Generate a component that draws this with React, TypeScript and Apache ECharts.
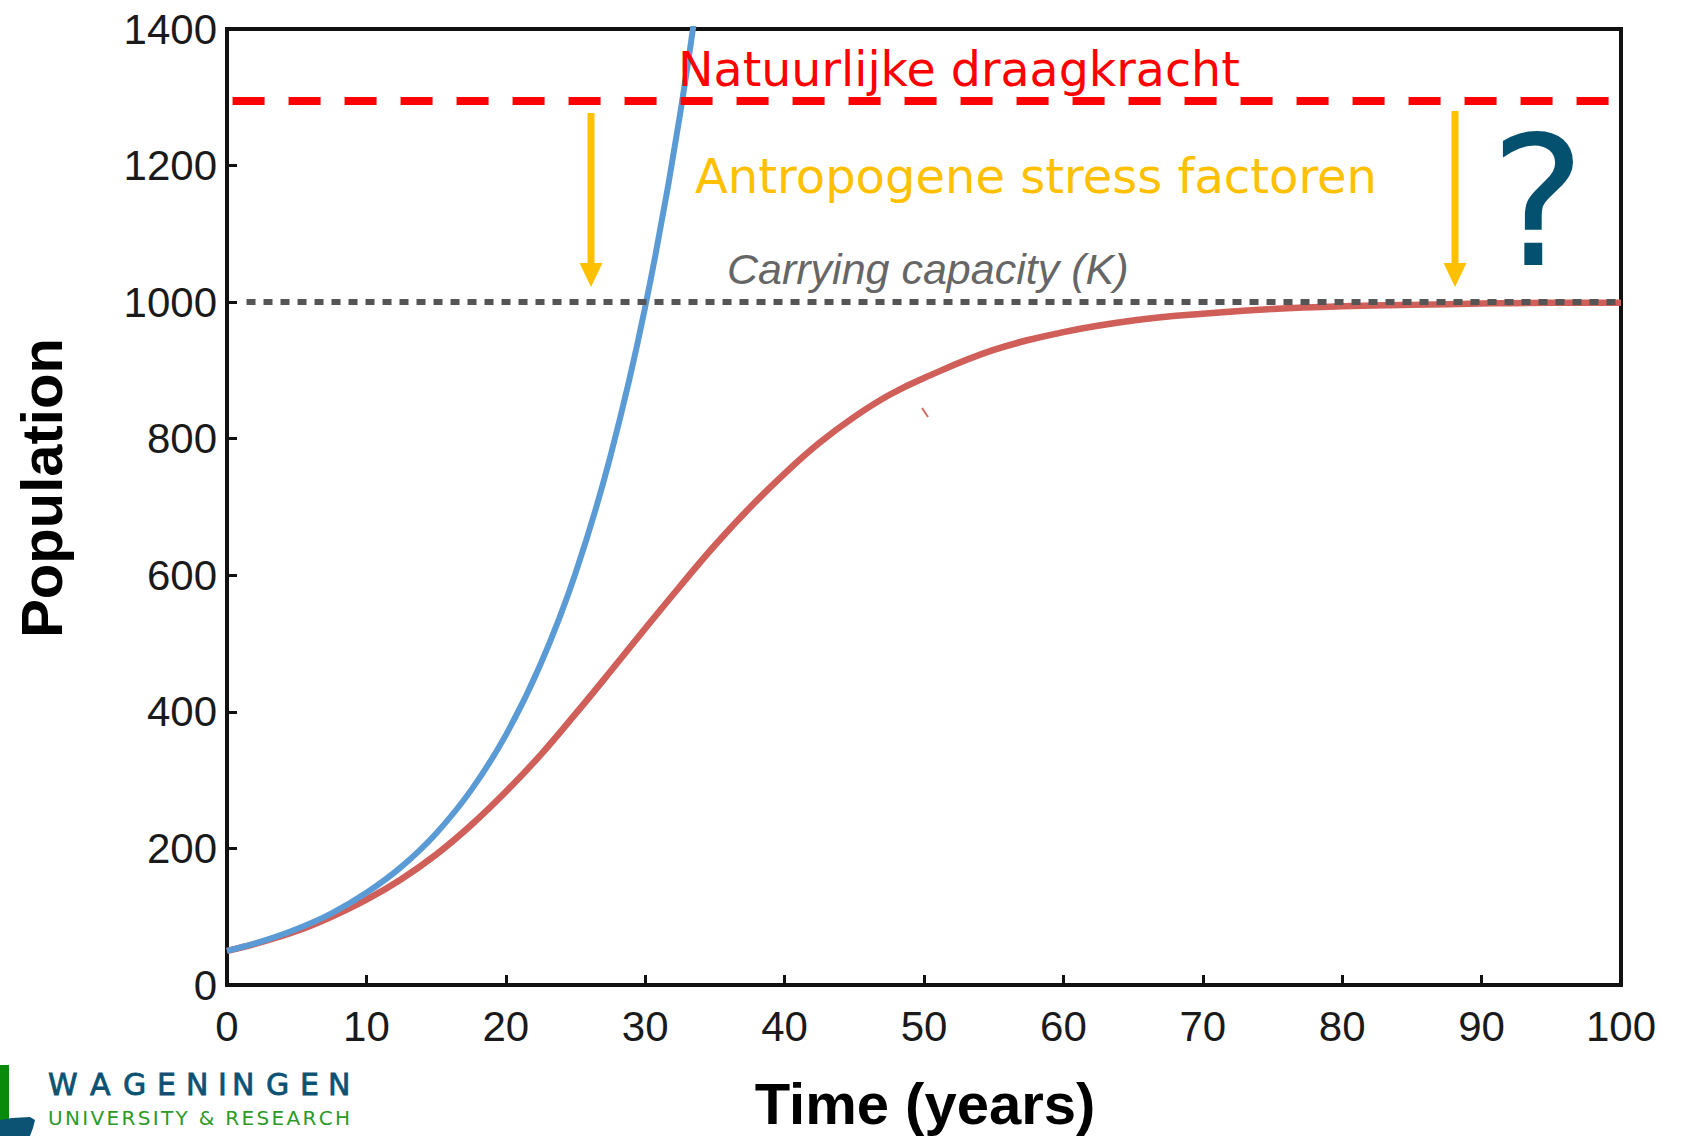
import React, { useEffect, useRef } from "react";
import * as echarts from "echarts";

// ---- data ----
const logisticYears = [0, 2.5, 5, 7.5, 10, 12.5, 15, 17.5, 20, 22.5, 25, 27.5, 30, 32.5, 35, 37.5, 40, 42.5, 45, 47.5, 50, 55, 60, 65, 70, 75, 80, 85, 90, 95, 100];
const logisticPop = [50, 63, 79, 100, 125, 155, 191, 234, 283, 337, 397, 459, 522, 584, 644, 699, 749, 794, 832, 864, 889, 930, 956, 973, 983, 990, 994, 996, 998, 999, 999];
const expYears = [0, 2.5, 5, 7.5, 10, 12.5, 15, 17.5, 20, 22.5, 25, 27.5, 30, 32.5, 35];
const expPop = [50, 64, 82, 105, 135, 173, 222, 285, 366, 470, 603, 774, 993, 1275, 1636];
const carryingCapacity = 1000;
const naturalCapacity = 1295;
const xTicks = [0, 10, 20, 30, 40, 50, 60, 70, 80, 90, 100];
const yTicks = [0, 200, 400, 600, 800, 1000, 1200, 1400];

const labels = {
  natural: "Natuurlijke draagkracht",
  stress: "Antropogene stress factoren",
  carrying: "Carrying capacity (K)",
  question: "?",
  xName: "Time (years)",
  yName: "Population",
  logo1: "WAGENINGEN",
  logo2: "UNIVERSITY & RESEARCH",
};

const W = 1682;
const H = 1136;

export default function App() {
  const ref = useRef<HTMLDivElement>(null);

  useEffect(() => {
    if (!ref.current) return;
    document.body.style.margin = "0";
    const chart = echarts.init(ref.current, undefined, { renderer: "svg" });

    const gridLeft = 227;
    const gridRight = W - 1621;
    const gridTop = 29;
    const gridBottom = H - 985;

    const axisColor = "#111";
    const labelFont = "Liberation Sans";

    // Wageningen logo letter positions (layout)
    const logo1Lefts = [48, 90, 123, 157, 186, 218, 232, 266, 300, 328];
    const logo1Els = labels.logo1.split("").map((ch, i) => ({
      type: "text",
      z: 20,
      style: {
        text: ch,
        x: logo1Lefts[i],
        y: 1084,
        fill: "#0b5273",
        fontFamily: "DejaVu Sans",
        fontSize: 30,
        textAlign: "left",
        textVerticalAlign: "middle",
        stroke: "#0b5273",
        lineWidth: 0.8,
      },
    }));
    const widthTable: Record<string, number> = {
      U: 0.732, N: 0.748, I: 0.295, V: 0.684, E: 0.632, R: 0.695, S: 0.635, T: 0.611, Y: 0.611,
      " ": 0.318, "&": 0.78, A: 0.684, C: 0.698, H: 0.752,
    };
    const fs2 = 20;
    let sumW = 0;
    labels.logo2.split("").forEach((c) => (sumW += (widthTable[c] || 0.6) * fs2));
    const spacing = (302 - sumW) / (labels.logo2.length - 1);
    let cx = 48;
    const logo2Els = labels.logo2.split("").map((ch) => {
      const el = {
        type: "text",
        z: 20,
        style: {
          text: ch,
          x: cx,
          y: 1118,
          fill: "#2a9a28",
          fontFamily: "DejaVu Sans",
          fontSize: fs2,
          textAlign: "left",
          textVerticalAlign: "middle",
        },
      };
      cx += (widthTable[ch] || 0.6) * fs2 + spacing;
      return el;
    });

    const arrowColor = "#FFC000";
    const arrow = (x: number, y0: number, y1: number) => [
      { type: "line", shape: { x1: x, y1: y0, x2: x, y2: y1 - 20 }, style: { stroke: arrowColor, lineWidth: 7 }, z: 20 },
      { type: "polygon", shape: { points: [[x - 11.5, y1 - 24], [x + 11.5, y1 - 24], [x, y1]] }, style: { fill: arrowColor }, z: 20 },
    ];

    const option: any = {
      animation: false,
      backgroundColor: "#fff",
      grid: {
        left: gridLeft,
        right: gridRight,
        top: gridTop,
        bottom: gridBottom,
        show: true,
        borderColor: axisColor,
        borderWidth: 4,
        backgroundColor: "#fff",
      },
      xAxis: {
        type: "value",
        min: xTicks[0],
        max: xTicks[xTicks.length - 1],
        interval: 10,
        axisLine: { show: true, lineStyle: { color: axisColor, width: 4 } },
        axisTick: { show: true, inside: true, length: 10, lineStyle: { color: axisColor, width: 3 } },
        axisLabel: { color: "#1a1a1a", fontFamily: labelFont, fontSize: 42, margin: 20, formatter: (v: number) => String(v) },
        splitLine: { show: false },
      },
      yAxis: {
        type: "value",
        min: yTicks[0],
        max: yTicks[yTicks.length - 1],
        interval: 200,
        axisLine: { show: true, lineStyle: { color: axisColor, width: 4 } },
        axisTick: { show: true, inside: true, length: 10, lineStyle: { color: axisColor, width: 3 } },
        axisLabel: { color: "#1a1a1a", fontFamily: labelFont, fontSize: 42, margin: 10, formatter: (v: number) => String(v) },
        splitLine: { show: false },
      },
      series: [
        {
          type: "line",
          data: logisticYears.map((t, i) => [t, logisticPop[i]]),
          smooth: 0.4,
          showSymbol: false,
          lineStyle: { color: "#cf5f58", width: 6.5 },
          z: 3,
        },
        {
          type: "line",
          data: expYears.map((t, i) => [t, expPop[i]]),
          smooth: 0.4,
          showSymbol: false,
          clip: true,
          lineStyle: { color: "#5b9bd5", width: 6 },
          z: 4,
        },
        {
          type: "line",
          data: [],
          z: 6,
          markLine: {
            silent: true,
            symbol: ["none", "none"],
            label: { show: false },
            data: [
              [
                { coord: [0.4, naturalCapacity], lineStyle: { color: "#ff0000", width: 8, type: [32, 24] } },
                { coord: [99.2, naturalCapacity] },
              ],
              [
                { coord: [1.4, carryingCapacity], lineStyle: { color: "#555", width: 6, type: [9, 8] } },
                { coord: [100, carryingCapacity] },
              ],
            ],
          },
        },
      ],
      graphic: [
        {
          type: "text",
          z: 30,
          style: {
            text: labels.natural, x: 678, y: 69, fill: "#ff0000",
            fontFamily: "DejaVu Sans", fontSize: 47.5, textAlign: "left", textVerticalAlign: "middle",
          },
        },
        {
          type: "text",
          z: 30,
          style: {
            text: labels.stress, x: 695, y: 176, fill: "#FFC000",
            fontFamily: "DejaVu Sans", fontSize: 48, textAlign: "left", textVerticalAlign: "middle",
          },
        },
        {
          type: "text",
          z: 30,
          style: {
            text: labels.carrying, x: 727, y: 269, fill: "#666",
            fontFamily: labelFont, fontStyle: "italic", fontSize: 43, textAlign: "left", textVerticalAlign: "middle",
          },
        },
        {
          type: "text",
          z: 30,
          style: {
            text: labels.question, x: 1490, y: 202, fill: "#03506f",
            fontFamily: "DejaVu Sans", fontSize: 180, textAlign: "left", textVerticalAlign: "middle",
          },
        },
        {
          type: "text",
          z: 30,
          style: {
            text: labels.xName, x: 925, y: 1103, fill: "#000",
            fontFamily: labelFont, fontWeight: "bold", fontSize: 58, textAlign: "center", textVerticalAlign: "middle",
          },
        },
        {
          type: "text",
          z: 30,
          x: 41,
          y: 488,
          rotation: Math.PI / 2,
          style: {
            text: labels.yName, x: 0, y: 0, fill: "#000",
            fontFamily: labelFont, fontWeight: "bold", fontSize: 58, textAlign: "center", textVerticalAlign: "middle",
          },
        },
        ...arrow(591, 113, 287),
        ...arrow(1455, 111, 287),
        { type: "line", shape: { x1: 922, y1: 408, x2: 928, y2: 417 }, style: { stroke: "#d46a64", lineWidth: 2 }, z: 20 },
        { type: "rect", shape: { x: 0, y: 1065, width: 9, height: 57 }, style: { fill: "#0a8a0a" }, z: 20 },
        {
          type: "polygon",
          shape: { points: [[0, 1120], [12, 1118], [30, 1117], [35, 1120], [33, 1128], [30, 1136], [0, 1136]] },
          style: { fill: "#0b5273" },
          z: 20,
        },
        ...logo1Els,
        ...logo2Els,
      ],
    };

    chart.setOption(option);
    return () => chart.dispose();
  }, []);

  return <div ref={ref} style={{ position: "absolute", left: 0, top: 0, width: W, height: H }} />;
}
